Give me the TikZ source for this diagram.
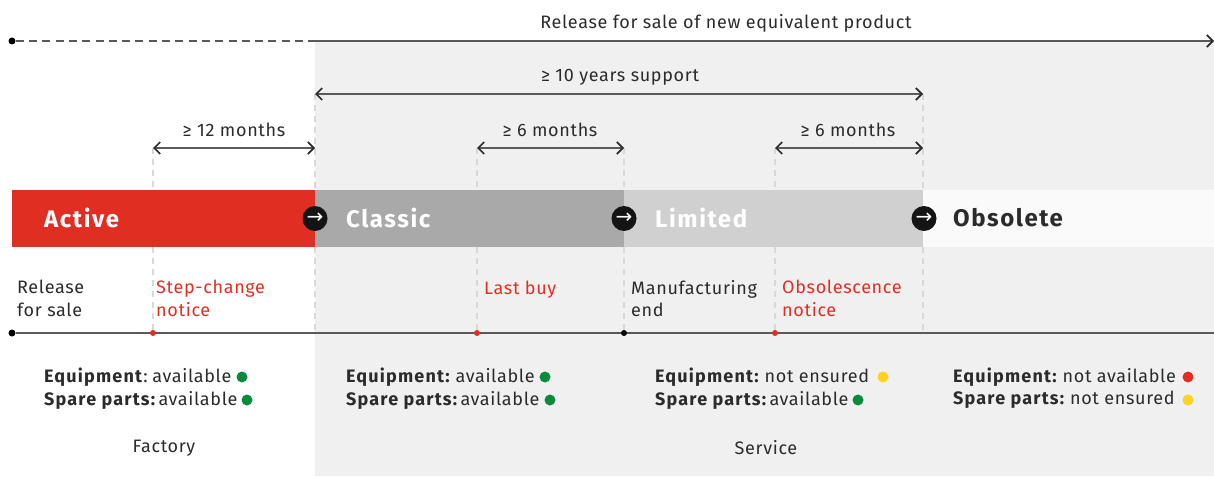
\documentclass[tikz,border=0pt]{standalone}
\usepackage{fontspec}
\setmainfont{Fira Sans}[LetterSpace=3.7,BoldFeatures={LetterSpace=6.5}]
\usetikzlibrary{arrows.meta}
\definecolor{ink}{HTML}{2B2B2B}
\definecolor{linegray}{HTML}{5A5A5A}
\definecolor{abbred}{HTML}{E12E22}
\definecolor{panel}{HTML}{F0F0F0}
\definecolor{classicgray}{HTML}{A9A9A9}
\definecolor{limitedgray}{HTML}{D0D0D0}
\definecolor{obsgray}{HTML}{FAFAFA}
\definecolor{guide}{HTML}{D8D8D8}
\definecolor{okgreen}{HTML}{0A8A3C}
\definecolor{warnyellow}{HTML}{FFD21F}
\newcommand{\tightgap}{\hspace{-2.5pt}}
\newcommand{\tightergap}{\hspace{-5pt}}
\tikzset{
  x=1pt,y=-1pt,
  txt/.style={inner sep=0pt,text=ink,font=\fontsize{18}{22.5}\selectfont,align=left,anchor=west},
  redtxt/.style={txt,text=abbred},
  ctr/.style={txt,anchor=center,align=center},
  phase/.style={inner sep=0pt,anchor=west,font=\fontsize{24}{26}\selectfont\bfseries},
  status/.style={txt,font=\fontsize{18}{23}\selectfont},
  span/.style={draw=linegray,line width=2pt,{Straight Barb[length=6pt,width=12pt,line width=1.7pt,color=ink]}-{Straight Barb[length=6pt,width=12pt,line width=1.7pt,color=ink]}},
  rule/.style={draw=linegray,line width=2pt},
  guideline/.style={draw=guide,line width=1.4pt,dash pattern=on 6pt off 5pt},
  dot/.style={circle,fill=#1,inner sep=0pt,minimum size=7pt},
  lamp/.style={circle,fill=#1,inner sep=0pt,minimum size=11pt},
  stepper/.style={circle,fill=black!92,inner sep=0pt,minimum size=25pt,text=white,font=\fontsize{20}{20}\selectfont}
}
\newfontfamily\arrowfont{DejaVu Sans}
\begin{document}
\begin{tikzpicture}
\useasboundingbox (0,0) rectangle (1214,476);
% panels
\fill[panel] (315,41) rectangle (1214,476);
\fill[abbred] (12,190) rectangle (315,247);
\fill[classicgray] (315,190) rectangle (624,247);
\fill[limitedgray] (624,190) rectangle (923,247);
\fill[obsgray] (923,190) rectangle (1214,247);
% coordinates
\coordinate (g1a) at (153,148);
\coordinate (g2a) at (315,94);
\coordinate (g3a) at (477,148);
\coordinate (g4a) at (624,148);
\coordinate (g5a) at (775,148);
\coordinate (g6a) at (923,94);
\coordinate (g2m) at (315,148); \coordinate (g6m) at (923,148);
\coordinate (relL) at (12,41); \coordinate (relM) at (315,41); \coordinate (relR) at (1214,41);
\coordinate (lineEnd) at (1214,333);
% guides, drawn in pieces so they do not cross the bar
\foreach \n/\x/\t in {a/153/148,b/315/94,c/477/148,d/624/148,e/775/148,f/923/94}{
  \coordinate (up\n) at (\x,\t); \coordinate (ub\n) at (\x,190);
  \coordinate (lo\n) at (\x,247); \coordinate (lb\n) at (\x,333);
  \draw[guideline] (up\n) -- (ub\n);
  \draw[guideline] (lo\n) -- (lb\n);
}
% top line
\node[dot=black] (start) at (relL) {};
\draw[linegray,line width=2pt,dash pattern=on 8pt off 5.3pt] (start) -- (relM);
\draw[linegray,line width=2pt,-{Straight Barb[length=6pt,width=12pt,line width=1.7pt,color=ink]}] (relM) -- (relR);
\node[ctr] (rel) at (726,23) {Release for sale of new equivalent product};
% spans
\draw[span] (g2a) -- (g6a);
\node[ctr] (sup) at (620,77) {≥ 10 years support};
\draw[span] (g1a) -- (g2m);
\node[ctr] (m12) at (234,130) {≥ 12 months};
\draw[span] (g3a) -- (g4a);
\node[ctr] (m6a) at (550,130) {≥ 6 months};
\draw[span] (g5a) -- (g6m);
\node[ctr] (m6b) at (848,130) {≥ 6 months};
% phase labels
\node[phase,text=white] (active) at (44,218) {Active};
\node[phase,text=white] (classic) at (346,218) {Classic};
\node[phase,text=white] (limited) at (655,218) {Limited};
\node[phase,text=ink] (obs) at (953,218) {Obsolete};
% steppers
\foreach \n/\x in {s1/315,s2/624,s3/924}{
  \node[stepper] (\n) at (\x,218.5) {\arrowfont→};
}
% timeline
\node[dot=black] (t0) at (12,333) {};
\draw[rule] (t0) -- (lineEnd);
\node[dot=abbred,minimum size=6pt] (t1) at (153,333) {};
\node[dot=abbred,minimum size=6pt] (t2) at (477,333) {};
\node[dot=black,minimum size=6pt] (t3) at (624,333) {};
\node[dot=abbred,minimum size=6pt] (t4) at (775,333) {};
% milestones
\node[txt] (m1) at (17,298.5) {Release\\for sale};
\node[redtxt] (m2) at (156,298.5) {Step-change\\notice};
\node[redtxt] (m3) at (484,289.5) {Last buy};
\node[txt] (m4) at (631,298.5) {Manufacturing\\end};
\node[redtxt] (m5) at (782,298.5) {Obsolescence\\notice};
% status
\node[status] (e1) at (44,377) {\textbf{Equipment}: \tightgap available};
\node[status] (p1) at (44,400) {\textbf{Spare parts:} \tightergap available};
\node[lamp=okgreen] (le1) at (242,377) {};
\node[lamp=okgreen] (lp1) at (247,400) {};
\node[status] (e2) at (346,377) {\textbf{Equipment:} \tightgap available};
\node[status] (p2) at (346,400) {\textbf{Spare parts:} \tightergap available};
\node[lamp=okgreen] (le2) at (545,377) {};
\node[lamp=okgreen] (lp2) at (550,400) {};
\node[status] (e3) at (655,377) {\textbf{Equipment:} \tightgap not ensured};
\node[status] (p3) at (655,400) {\textbf{Spare parts:} \tightergap available};
\node[lamp=warnyellow] (le3) at (883,377) {};
\node[lamp=okgreen] (lp3) at (858,400) {};
\node[status] (e4) at (953,377) {\textbf{Equipment:} \tightgap not available};
\node[status] (p4) at (953,400) {\textbf{Spare parts:} \tightgap not ensured};
\node[lamp=abbred] (le4) at (1188,377) {};
\node[lamp=warnyellow] (lp4) at (1188,400) {};
\node[ctr] (factory) at (164,448) {Factory};
\node[ctr] (service) at (766,448) {Service};
\end{tikzpicture}
\end{document}
